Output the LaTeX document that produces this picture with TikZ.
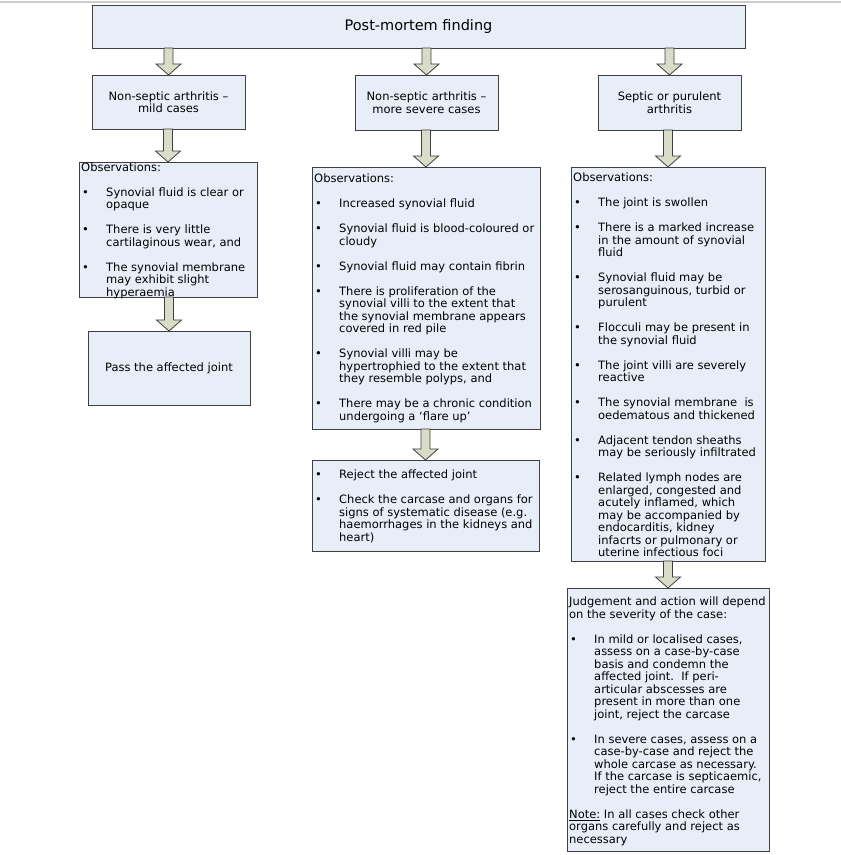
\documentclass[tikz,border=0pt]{standalone}
\usepackage{fontspec}
\setmainfont{DejaVu Sans}
\usetikzlibrary{calc}
\definecolor{boxfill}{HTML}{E8EEF8}
\definecolor{boxline}{HTML}{404040}
\definecolor{arrfill}{HTML}{D9DCC6}
\newcommand\bl{\makebox[25pt][l]{\hspace{1pt}•}}
\newcommand\ct{\hspace*{25pt}}
\newcommand\mkbox[6]{\node[box, minimum width={(#4-#2)*1pt}, minimum height={(#5-#3)*1pt}] (#1) at (#2,{855-#3}) {#6};}
\newcommand\blkarrow[2]{\draw[blk] let \p1=(#1.south), \p2=(#2.north) in
  (\x2-4.5,\y1) -- (\x2+4.5,\y1) -- (\x2+4.5,\y2+11) -- (\x2+12.5,\y2+11) -- (\x2,\y2)
  -- (\x2-12.5,\y2+11) -- (\x2-4.5,\y2+11) -- cycle;}
\begin{document}
\begin{tikzpicture}[x=1pt,y=1pt,
  box/.style={draw=boxline, fill=boxfill, line width=0.9pt, inner sep=0pt, outer sep=0pt,
    anchor=north west, align=center, font=\fontsize{11.5}{12.5}\selectfont},
  txt/.style={anchor=north west, inner sep=0pt, align=left, font=\fontsize{11.5}{12.5}\selectfont},
  blk/.style={draw=boxline, fill=arrfill, line width=0.8pt, line join=miter}]
\useasboundingbox (0,0) rectangle (841,855);
\fill[white] (0,0) rectangle (841,855);
\draw[gray!40, line width=1.5pt] (0,853) -- (841,853);

% boxes
\mkbox{top}{92}{5}{745}{48}{\fontsize{14.5}{16}\selectfont Post-mortem finding}
\mkbox{A1}{92}{75}{245}{129}{Non-septic arthritis –\\mild cases}
\mkbox{B1}{355}{75}{498}{130}{Non-septic arthritis –\\more severe cases}
\mkbox{C1}{598}{75}{741}{130}{Septic or purulent\\arthritis}
\mkbox{A2}{79}{162}{257}{297}{}
\mkbox{A3}{88}{331}{250}{405}{Pass the affected joint}
\mkbox{B2}{312}{167}{540}{429}{}
\mkbox{B3}{312}{460}{539}{551}{}
\mkbox{C2}{571}{167}{765}{561}{}
\mkbox{C3}{567}{588}{769}{851}{}

% texts
\node[txt] (A2t) at (81,{855-162.5}) {Observations:\\[12.5pt]
\bl Synovial fluid is clear or\\
\ct opaque\\[12.5pt]
\bl There is very little\\
\ct cartilaginous wear, and\\[12.5pt]
\bl The synovial membrane\\
\ct may exhibit slight\\
\ct hyperaemia};

\node[txt] (B2t) at (314,{855-174}) {Observations:\\[12.5pt]
\bl Increased synovial fluid\\[12.5pt]
\bl Synovial fluid is blood-coloured or\\
\ct cloudy\\[12.5pt]
\bl Synovial fluid may contain fibrin\\[12.5pt]
\bl There is proliferation of the\\
\ct synovial villi to the extent that\\
\ct the synovial membrane appears\\
\ct covered in red pile\\[12.5pt]
\bl Synovial villi may be\\
\ct hypertrophied to the extent that\\
\ct they resemble polyps, and\\[12.5pt]
\bl There may be a chronic condition\\
\ct undergoing a ‘flare up’};

\node[txt] (B3t) at (314,{855-470}) {\bl Reject the affected joint\\[12.5pt]
\bl Check the carcase and organs for\\
\ct signs of systematic disease (e.g.\\
\ct haemorrhages in the kidneys and\\
\ct heart)};

\node[txt] (C2t) at (573,{855-173}) {Observations:\\[12.5pt]
\bl The joint is swollen\\[12.5pt]
\bl There is a marked increase\\
\ct in the amount of synovial\\
\ct fluid\\[12.5pt]
\bl Synovial fluid may be\\
\ct serosanguinous, turbid or\\
\ct purulent\\[12.5pt]
\bl Flocculi may be present in\\
\ct the synovial fluid\\[12.5pt]
\bl The joint villi are severely\\
\ct reactive\\[12.5pt]
\bl The synovial membrane\ \ is\\
\ct oedematous and thickened\\[12.5pt]
\bl Adjacent tendon sheaths\\
\ct may be seriously infiltrated\\[12.5pt]
\bl Related lymph nodes are\\
\ct enlarged, congested and\\
\ct acutely inflamed, which\\
\ct may be accompanied by\\
\ct endocarditis, kidney\\
\ct infacrts or pulmonary or\\
\ct uterine infectious foci};

\node[txt] (C3t) at (569,{855-597}) {Judgement and action will depend\\
on the severity of the case:\\[12.5pt]
\bl In mild or localised cases,\\
\ct assess on a case-by-case\\
\ct basis and condemn the\\
\ct affected joint.\ \ If peri-\\
\ct articular abscesses are\\
\ct present in more than one\\
\ct joint, reject the carcase\\[12.5pt]
\bl In severe cases, assess on a\\
\ct case-by-case and reject the\\
\ct whole carcase as necessary.\\
\ct If the carcase is septicaemic,\\
\ct reject the entire carcase\\[12.5pt]
\underline{Note:} In all cases check other\\
organs carefully and reject as\\
necessary};

% arrows
\blkarrow{top}{A1}
\blkarrow{top}{B1}
\blkarrow{top}{C1}
\blkarrow{A1}{A2}
\blkarrow{B1}{B2}
\blkarrow{C1}{C2}
\blkarrow{A2}{A3}
\blkarrow{B2}{B3}
\blkarrow{C2}{C3}
\end{tikzpicture}
\end{document}
